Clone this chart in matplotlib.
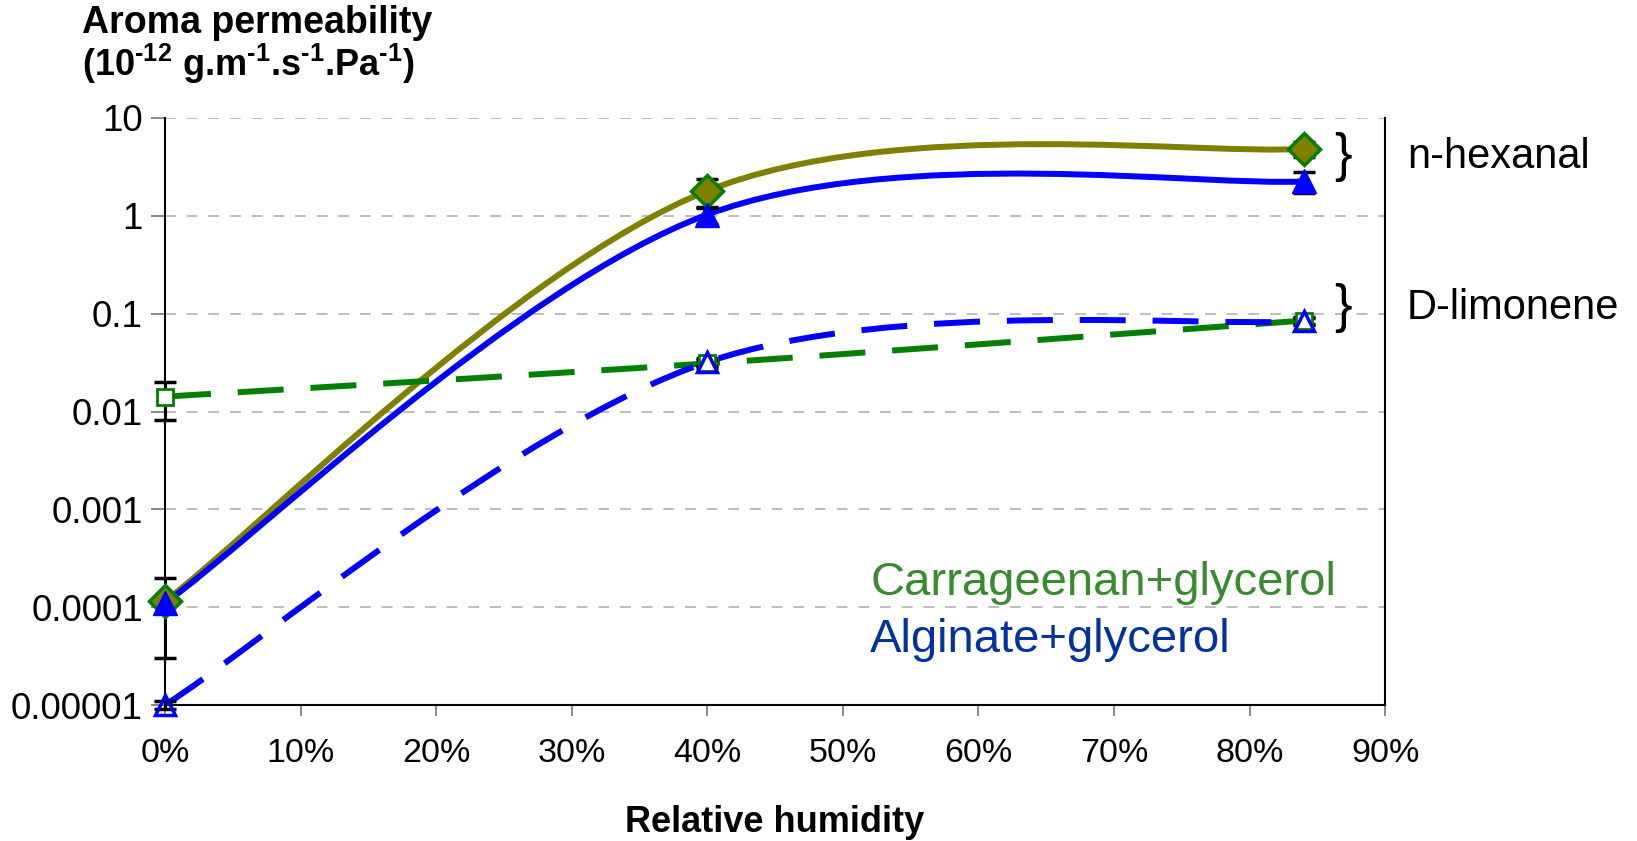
import numpy as np
import matplotlib
matplotlib.use("Agg")
import matplotlib.pyplot as plt
from matplotlib.path import Path
from matplotlib.patches import PathPatch
from matplotlib.ticker import FixedLocator, FuncFormatter

plt.rcParams["font.family"] = ["Liberation Sans", "DejaVu Sans"]
plt.rcParams["mathtext.fontset"] = "custom"
plt.rcParams["mathtext.rm"] = "Liberation Sans:bold"
plt.rcParams["mathtext.it"] = "Liberation Sans:bold"
plt.rcParams["mathtext.bf"] = "Liberation Sans:bold"

# relative humidity (%) of the measurements
rh = [0, 40, 84]

# aroma permeability, 1e-12 g/(m.s.Pa)
carr_hexanal = [1.15e-4, 1.8, 4.85]
alg_hexanal = [1.1e-4, 1.03, 2.25]
carr_limonene = [0.0142, 0.031, 0.085]
alg_limonene = [1.0e-5, 0.032, 0.084]

# standard deviations
carr_hexanal_sd = [8.5e-5, 0.6, 0.9]
alg_hexanal_sd = [5e-6, 0.2, 0.55]
carr_limonene_sd = [0.006, 0.003, 0.008]
alg_limonene_sd = [1e-6, 0.003, 0.006]

y_ticks = [1e-5, 1e-4, 1e-3, 1e-2, 1e-1, 1, 10]
y_labels = ["0.00001", "0.0001", "0.001", "0.01", "0.1", "1", "10"]
x_ticks = [0, 10, 20, 30, 40, 50, 60, 70, 80, 90]

OLIVE = "#808000"
GREEN = "#008000"
BLUE = "#0000FF"


def smooth_path(x, y):
    """Bezier smoothing through the points, done in (x, log10 y) space."""
    px = np.asarray(x, float)
    py = np.log10(np.asarray(y, float))
    n = len(px)
    verts = [(px[0], py[0])]
    codes = [Path.MOVETO]
    for i in range(n - 1):
        a = max(i - 1, 0)
        b = min(i + 2, n - 1)
        c1 = (px[i] + (px[i + 1] - px[a]) / 6, py[i] + (py[i + 1] - py[a]) / 6)
        c2 = (px[i + 1] - (px[b] - px[i]) / 6, py[i + 1] - (py[b] - py[i]) / 6)
        verts += [c1, c2, (px[i + 1], py[i + 1])]
        codes += [Path.CURVE4] * 3
    verts = [(vx, 10 ** vy) for vx, vy in verts]
    return Path(verts, codes)


fig = plt.figure(figsize=(16.37, 8.41), dpi=100)
ax = fig.add_axes([0.1008, 0.1617, 0.7453, 0.6980])
ax.set_yscale("log")
ax.set_xlim(0, 90)
ax.set_ylim(1e-5, 10)

# horizontal grid
for t in y_ticks:
    ax.axhline(t, color="#b8b8b8", lw=1.3, ls=(0, (6, 6)), zorder=1)

dash = (0, (7.7, 4.5))
series = [
    (carr_hexanal, OLIVE, "-"),
    (alg_hexanal, BLUE, "-"),
    (carr_limonene, GREEN, dash),
    (alg_limonene, BLUE, dash),
]
for vals, col, ls in series:
    ax.add_patch(PathPatch(smooth_path(rh, vals), fill=False, edgecolor=col,
                           lw=4.3, ls=ls, capstyle="butt", zorder=3))

for vals, sd in [(carr_hexanal, carr_hexanal_sd), (alg_hexanal, alg_hexanal_sd),
                 (carr_limonene, carr_limonene_sd), (alg_limonene, alg_limonene_sd)]:
    ax.errorbar(rh, vals, yerr=sd, fmt="none", ecolor="black", elinewidth=2.2,
                capsize=8, capthick=2.5, zorder=4, clip_on=False)

ax.plot(rh, carr_hexanal, ls="none", marker="D", ms=16, mfc=OLIVE, mec=GREEN,
        mew=2.5, zorder=5, clip_on=False)
ax.plot(rh, alg_hexanal, ls="none", marker="^", ms=17, mfc=BLUE, mec=BLUE,
        mew=1, zorder=6, clip_on=False)
ax.plot(rh, carr_limonene, ls="none", marker="s", ms=11, mfc="white", mec=GREEN,
        mew=2, zorder=5, clip_on=False)
ax.plot(rh, alg_limonene, ls="none", marker="^", ms=15, mfc="none", mec=BLUE,
        mew=2.5, zorder=6, clip_on=False)

# axes styling
ax.spines["top"].set_visible(False)
for s in ("left", "bottom", "right"):
    ax.spines[s].set_linewidth(1.5)
    ax.spines[s].set_color("black")
ax.yaxis.set_major_locator(FixedLocator(y_ticks))
ax.yaxis.set_minor_locator(FixedLocator([]))
ax.set_yticklabels(y_labels)
ax.set_xticks(x_ticks)
ax.xaxis.set_major_formatter(FuncFormatter(lambda v, p: f"{v:.0f}%"))
ax.tick_params(axis="y", direction="out", length=10, width=1.3, color="#808080",
               labelsize=26.5, pad=6)
ax.tick_params(axis="x", direction="out", length=8, width=1.3, color="#808080",
               labelsize=24.5, pad=16)

# series names
ax.text(0.578, 0.187, "Carrageenan+glycerol", transform=ax.transAxes,
        fontsize=34, color="#3A8A30", va="baseline", ha="left")
ax.text(0.578, 0.090, "Alginate+glycerol", transform=ax.transAxes,
        fontsize=34, color="#0033A0", va="baseline", ha="left")

# aroma compound labels
for yy, name in [(0.934, "n-hexanal"), (0.676, "D-limonene")]:
    ax.text(0.9656, yy, "}", transform=ax.transAxes, fontsize=38,
            ha="center", va="center")
    ax.text(1.018, yy, name, transform=ax.transAxes, fontsize=30,
            ha="left", va="center", clip_on=False)

fig.text(0.050, 0.961, "Aroma permeability", fontsize=27, fontweight="bold",
         va="baseline", ha="left")
fig.text(0.050, 0.9096,
         r"(10$^{\text{-}12}$ g.m$^{\text{-}1}$.s$^{\text{-}1}$.Pa$^{\text{-}1}$)",
         fontsize=26, fontweight="bold", va="baseline", ha="left")
fig.text(0.4734, 0.0107, "Relative humidity", fontsize=26, fontweight="bold",
         va="baseline", ha="center")

fig.savefig("out.png", dpi=100)
